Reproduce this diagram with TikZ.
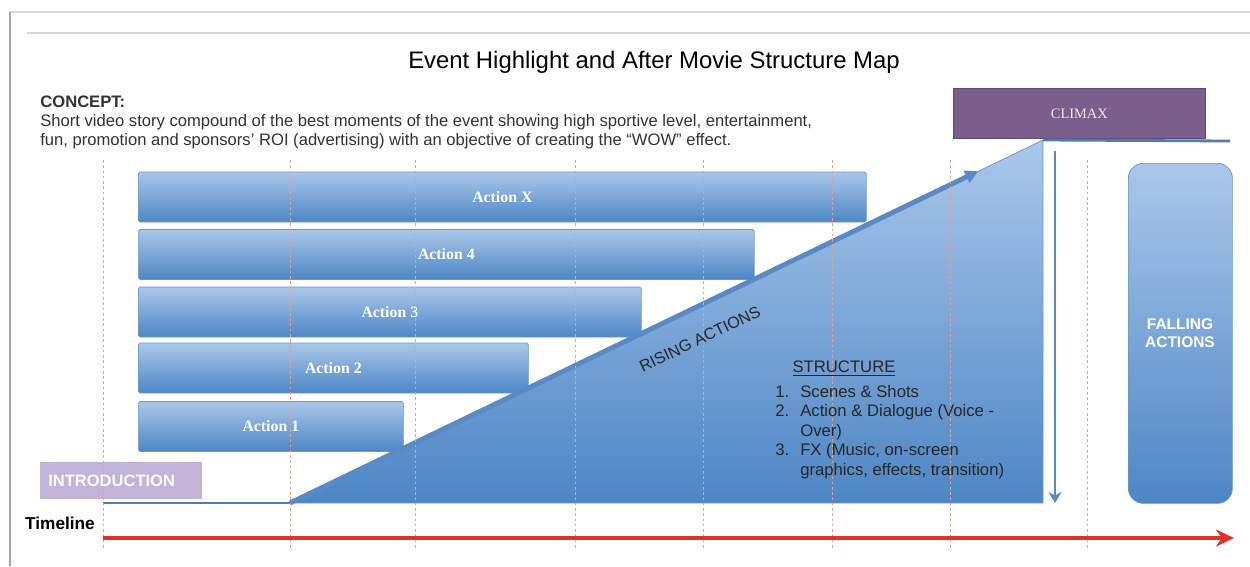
\documentclass[tikz,border=0pt]{standalone}
\usepackage{fontspec}
\setmainfont{Liberation Sans}
\newfontfamily\barfont{Liberation Serif}
\usetikzlibrary{arrows.meta,calc}
\definecolor{barlight}{HTML}{AAC7EA}
\definecolor{bardark}{HTML}{4D86C5}
\definecolor{barline}{HTML}{6E95C4}
\definecolor{arrowblue}{HTML}{5A8AC4}
\definecolor{climaxpurple}{HTML}{7A5E8C}
\definecolor{intropurple}{HTML}{C1B4D8}
\definecolor{timered}{HTML}{E2302A}
\definecolor{guidered}{HTML}{E6A08F}
\definecolor{conceptgray}{HTML}{333333}
\definecolor{framegray}{HTML}{D8D8D8}
\tikzset{
 actbar/.style={draw=barline,top color=barlight,bottom color=bardark,rounded corners=1pt,
  anchor=west,minimum height=10mm,text=white,font=\barfont\bfseries\fontsize{9}{10}\selectfont},
 introbox/.style={fill=intropurple,anchor=north west,inner xsep=1.6mm,text=white!94!intropurple,
  font=\bfseries\fontsize{9.4}{10}\selectfont},
 climaxbox/.style={fill=climaxpurple,draw=climaxpurple!80!black,anchor=north west,
  text=white!88!climaxpurple,font=\barfont\fontsize{8.2}{10}\selectfont},
 fallbox/.style={draw=barline,top color=barlight,bottom color=bardark,rounded corners=3mm,anchor=north west},
 levelline/.style={draw=arrowblue!90!black,line width=1.6pt},
 risearrow/.style={draw=arrowblue,line width=2.8pt,-{Triangle[length=2.6mm,width=2.6mm]}},
 fallarrow/.style={draw=arrowblue,line width=1.6pt,-{Stealth[length=2.2mm,width=2.6mm]}},
 timearrow/.style={draw=timered,line width=2.8pt,-{Stealth[length=3.6mm,width=3.4mm]}},
 guide/.style={draw=guidered,line width=0.5pt,dash pattern=on 1.5pt off 1.5pt},
 bodytext/.style={text=conceptgray,font=\fontsize{9.45}{10.8}\selectfont}
}
\begin{document}
\begin{tikzpicture}[x=0.2mm,y=-0.2mm]
 \useasboundingbox[fill=white] (0,0) rectangle (1250,566);
 % frame
 \draw[framegray,line width=1pt] (1250,12) -- (10,12);
 \draw[black!35,line width=1.2pt] (10,12) -- (10,566);
 \draw[framegray,line width=1.6pt] (27,33) -- (1250,33);
 % heading
 \node[font=\fontsize{13.6}{16}\selectfont] (title) at (654,62) {Event Highlight and After Movie Structure Map};
 \node[bodytext,anchor=north west,align=left,inner sep=0] (concept) at (40,96)
  {\textbf{CONCEPT:}\\
   Short video story compound of the best moments of the event showing high sportive level, entertainment,\\
   fun, promotion and sponsors' ROI (advertising) with an objective of creating the ``WOW'' effect.};
 % action bars
 \foreach \nm/\txt/\yy/\ww in {ax/Action X/197/145.6mm,a4/Action 4/254.5/123.2mm,
   a3/Action 3/312/100.6mm,a2/Action 2/368/78mm,a1/Action 1/426.5/53mm}
  \node[actbar,minimum width=\ww] (\nm) at (138,\yy) {\txt};
 \node[introbox,minimum width=32.4mm,minimum height=7.4mm,text width=29.2mm,align=left] (intro) at (40,462) {INTRODUCTION};
 % rising triangle
 \coordinate (ibase) at (103,503);
 \coordinate (rbase) at (290,503);
 \coordinate (rtop) at (1043,140);
 \coordinate (rfoot) at (1043,503);
 \coordinate (cend) at (1230,141);
 \shade[top color=barlight,bottom color=bardark,draw=barline] (rbase) -- (rtop) -- (rfoot) -- cycle;
 \draw[levelline] (ibase) -- (rbase);
 \node[climaxbox,minimum width=50.4mm,minimum height=10mm] (climax) at (953,88) {CLIMAX};
 \draw[levelline] (rtop) -- (cend);
 \draw[risearrow] (rbase) -- ($(rbase)!0.914!(rtop)$);
 % falling actions
 \node[fallbox,minimum width=20.8mm,minimum height=68mm] (fall) at (1128,163) {};
 \coordinate (dtop) at (1055,151);
 \coordinate (dbot) at (1055,503);
 \draw[fallarrow] (dtop) -- (dbot);
 % guides
 \foreach \xx in {103,290,415,575,703,832,950,1087}
  \draw[guide] (\xx,160) -- (\xx,550);
 % texts on shapes
 \node[rotate=25.7,text=black!85,font=\fontsize{9.2}{10}\selectfont] (risetxt) at (700,339) {RISING ACTIONS};
 \node[text=black!85,font=\fontsize{9.5}{11}\selectfont] (structhead) at (844,369) {\underline{STRUCTURE}};
 \node[anchor=north west,inner sep=0,text=black!85,font=\fontsize{9.5}{11.1}\selectfont] (structlist) at (775,383)
  {\begin{tabular}{@{}r@{\hspace{2.2mm}}l@{}}
   1. & Scenes \& Shots\\
   2. & Action \& Dialogue (Voice -\\
      & Over)\\
   3. & FX (Music, on-screen\\
      & graphics, effects, transition)
   \end{tabular}};
 \node[text=white,align=center,font=\bfseries\fontsize{8.8}{10.4}\selectfont] (falltxt) at (1180,333) {FALLING\\ACTIONS};
 % timeline
 \node[font=\bfseries\fontsize{9.8}{10}\selectfont] (tl) at (60,523) {Timeline};
 \coordinate (tstart) at (103,538);
 \coordinate (tend) at (1234,538);
 \draw[timearrow] (tstart) -- (tend);
\end{tikzpicture}
\end{document}
